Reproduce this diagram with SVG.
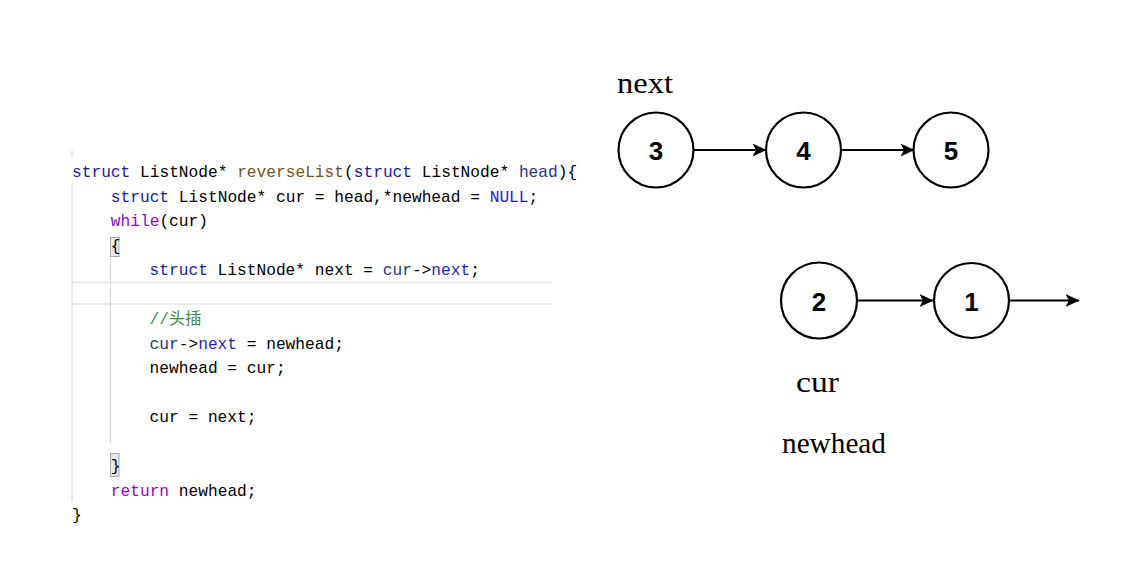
<svg xmlns="http://www.w3.org/2000/svg" width="1129" height="586" viewBox="0 0 1129 586">
<style>
.code{font-family:"Liberation Mono","Noto Sans CJK SC",monospace;font-size:16.2px;fill:#000}
.kw{fill:#1b1ba6}
.fn{fill:#74531f}
.par{fill:#1f377f}
.mac{fill:#1a1ae0}
.ctl{fill:#8f08c4}
.mem{fill:#1f1fc8}
.cm{fill:#3c8a3c}
.guide{stroke:#d4d4d4;stroke-width:1}
.node circle{fill:#fff;stroke:#000;stroke-width:2.2}
.node text{font-family:"Liberation Sans",Arial,sans-serif;font-weight:bold;font-size:26px;text-anchor:middle;fill:#000}
.lbl{font-family:"Liberation Serif","Noto Serif CJK SC",serif;font-size:29px;fill:#000}
.edge{stroke:#000;stroke-width:2.2;fill:none}
</style>
<defs>
<marker id="arr" viewBox="0 0 14 13" refX="13.5" refY="6.5" markerWidth="14" markerHeight="13" markerUnits="userSpaceOnUse" orient="auto">
<path d="M0,0 L14,6.5 L0,13 L3.5,6.5 Z" fill="#000"/>
</marker>
</defs>
<rect width="1129" height="586" fill="#fff"/>

<g id="code">
<line class="guide" x1="72" y1="150" x2="72" y2="157"/>
<line class="guide" x1="72" y1="183" x2="72" y2="502"/>
<line class="guide" x1="110.5" y1="258" x2="110.5" y2="443"/>
<line x1="72" y1="282.5" x2="551" y2="282.5" stroke="#e3e3e3" stroke-width="1.5"/>
<line x1="72" y1="304" x2="551" y2="304" stroke="#e3e3e3" stroke-width="1.5"/>
<rect x="110.5" y="237.5" width="8.5" height="19" fill="#e8e8e8" stroke="#a8a8a8" stroke-width="1"/>
<rect x="110.5" y="453.5" width="8.5" height="23" fill="#e8e8e8" stroke="#a8a8a8" stroke-width="1"/>
<text class="code" x="72" y="177"><tspan class="kw">struct</tspan> ListNode* <tspan class="fn">reverseList</tspan>(<tspan class="kw">struct</tspan> ListNode* <tspan class="par">head</tspan>){</text>
<text class="code" x="110.8" y="201.5"><tspan class="kw">struct</tspan> ListNode* cur = head,*newhead = <tspan class="mac">NULL</tspan>;</text>
<text class="code" x="110.8" y="226"><tspan class="ctl">while</tspan>(cur)</text>
<text class="code" x="110.8" y="250.5">{</text>
<text class="code" x="149.6" y="275"><tspan class="kw">struct</tspan> ListNode* next = <tspan class="par">cur</tspan>-&gt;<tspan class="mem">next</tspan>;</text>
<text class="code cm" x="149.6" y="324">//头插</text>
<text class="code" x="149.6" y="348.5"><tspan class="par">cur</tspan>-&gt;<tspan class="mem">next</tspan> = newhead;</text>
<text class="code" x="149.6" y="373">newhead = cur;</text>
<text class="code" x="149.6" y="422">cur = next;</text>
<text class="code" x="110.8" y="471">}</text>
<text class="code" x="110.8" y="495.5"><tspan class="ctl">return</tspan> newhead;</text>
<text class="code" x="72" y="520">}</text>
</g>

<g id="connectors">
<line class="edge" x1="694" y1="150" x2="766" y2="150" marker-end="url(#arr)"/>
<line class="edge" x1="841.5" y1="150" x2="914" y2="150" marker-end="url(#arr)"/>
<line class="edge" x1="857" y1="300.5" x2="933" y2="300.5" marker-end="url(#arr)"/>
<line class="edge" x1="1009.5" y1="300.5" x2="1079" y2="300.5" marker-end="url(#arr)"/>
</g>

<g id="node3" class="node"><circle cx="656" cy="150" r="37.5"/><text x="656" y="159.5">3</text></g>
<g id="node4" class="node"><circle cx="803.5" cy="150" r="37.5"/><text x="803.5" y="159.5">4</text></g>
<g id="node5" class="node"><circle cx="951" cy="150" r="37.5"/><text x="951" y="159.5">5</text></g>
<g id="node2" class="node"><circle cx="819" cy="300.5" r="38"/><text x="819" y="311">2</text></g>
<g id="node1" class="node"><circle cx="971.5" cy="300.5" r="37.5"/><text x="971.5" y="311">1</text></g>

<g id="labels">
<text class="lbl" x="617" y="93" textLength="56" lengthAdjust="spacingAndGlyphs">next</text>
<text class="lbl" x="796" y="392" textLength="43" lengthAdjust="spacingAndGlyphs">cur</text>
<text class="lbl" x="782" y="453" textLength="104" lengthAdjust="spacingAndGlyphs">newhead</text>
</g>
</svg>
